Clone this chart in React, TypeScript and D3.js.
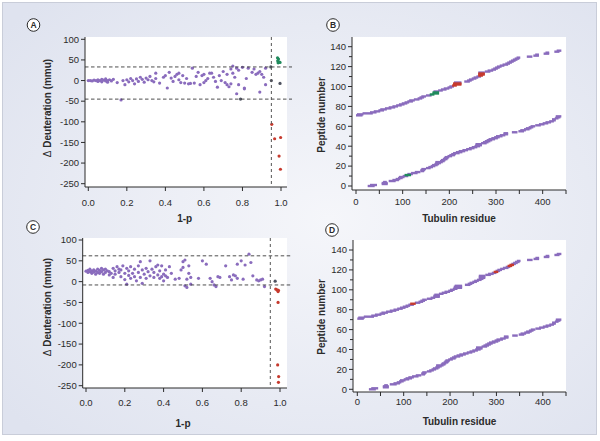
import React from "react";
import * as d3 from "d3";

// ---- data ----
// panel A : 1-p vs delta deuteration (mmu)
const scatterA_purple: [number, number][] = [
  [0.0, 0], [0.01, 0], [0.02, -1], [0.03, 1], [0.04, 0], [0.05, -2], [0.05, 2], [0.06, 0], [0.07, 3], [0.07, -3],
  [0.08, 1], [0.09, -1], [0.09, 4], [0.1, 0], [0.1, -4], [0.11, 2], [0.12, -1], [0.13, 3], [0.15, -5], [0.17, -47],
  [0.18, 0], [0.19, -10], [0.2, 2], [0.21, -3], [0.22, 5], [0.23, 0], [0.24, -8], [0.25, 4], [0.26, -2], [0.27, 8],
  [0.28, 3], [0.29, -4], [0.3, 6], [0.31, 2], [0.32, 10], [0.33, 0], [0.34, -3], [0.35, 5], [0.35, 18], [0.37, -6],
  [0.39, 8], [0.4, 12], [0.41, -18], [0.42, 20], [0.43, 6], [0.44, -2], [0.45, 10], [0.46, 15], [0.47, 2], [0.47, 18],
  [0.48, -5], [0.49, 12], [0.5, -6], [0.51, 5], [0.52, -8], [0.53, -7], [0.54, 30], [0.55, -6], [0.56, 10], [0.57, 20],
  [0.58, -10], [0.59, 12], [0.6, 15], [0.6, -5], [0.61, 0], [0.62, 5], [0.63, 18], [0.64, 18], [0.65, 8], [0.66, -2],
  [0.67, -16], [0.68, 12], [0.69, 0], [0.7, 22], [0.71, -5], [0.72, -10], [0.72, 15], [0.73, -15], [0.74, 28], [0.74, -8],
  [0.75, 18], [0.75, 35], [0.76, 8], [0.77, -32], [0.77, 30], [0.78, 25], [0.78, -10], [0.8, 32], [0.81, -20], [0.81, -18],
  [0.82, 5], [0.83, 30], [0.85, 20], [0.86, 28], [0.87, 15], [0.88, 18], [0.89, 22], [0.89, -28], [0.9, 15], [0.91, 8],
  [0.92, -10], [0.92, 30],
];
const scatterA_gray: [number, number][] = [[0.947, 33], [0.95, 0], [0.995, -7], [0.79, -45]];
const scatterA_green: [number, number][] = [[0.982, 55], [0.987, 52], [0.983, 48], [0.99, 45], [0.985, 43], [0.995, 44]];
const scatterA_red: [number, number][] = [[0.952, -106], [0.967, -141], [0.998, -138], [0.99, -183], [0.997, -215]];
const cutA = { hi: 33, lo: -45, p: 0.95 };

// panel C
const scatterC_purple: [number, number][] = [
  [0.0, 25], [0.01, 22], [0.01, 27], [0.02, 24], [0.02, 30], [0.03, 20], [0.03, 26], [0.04, 23], [0.04, 28], [0.05, 18],
  [0.05, 25], [0.06, 22], [0.06, 30], [0.07, 27], [0.07, 20], [0.08, 24], [0.08, 32], [0.09, 18], [0.09, 28], [0.1, 22],
  [0.1, 30], [0.11, 26], [0.12, 16], [0.12, 24], [0.13, 20], [0.14, 32], [0.14, 10], [0.15, 26], [0.15, 18], [0.16, 36],
  [0.17, 22], [0.17, 30], [0.18, 12], [0.18, 28], [0.19, 38], [0.2, 20], [0.2, 5], [0.21, -6], [0.21, 32], [0.22, 15],
  [0.22, 26], [0.23, 36], [0.23, 8], [0.24, 20], [0.25, 30], [0.25, 12], [0.26, 2], [0.27, 22], [0.27, 38], [0.28, 48],
  [0.28, 10], [0.29, -4], [0.29, 28], [0.3, 18], [0.31, 32], [0.31, 8], [0.32, 24], [0.33, 50], [0.33, 14], [0.34, 30],
  [0.35, 10], [0.35, 22], [0.36, 36], [0.37, 16], [0.37, 40], [0.38, 8], [0.38, 26], [0.39, 12], [0.39, 38], [0.4, 18],
  [0.4, 2], [0.41, 14], [0.41, 28], [0.42, 10], [0.43, 36], [0.44, 20], [0.46, 6], [0.48, 8], [0.49, 28], [0.5, 34],
  [0.5, 48], [0.51, -10], [0.51, 52], [0.52, -14], [0.52, 6], [0.53, 38], [0.53, 20], [0.54, -6], [0.54, 10], [0.58, 8],
  [0.6, 50], [0.62, 42], [0.64, 8], [0.65, 0], [0.66, -8], [0.67, -12], [0.68, 12], [0.69, 10], [0.72, 38], [0.74, 12],
  [0.75, 4], [0.76, 16], [0.77, 14], [0.78, 8], [0.78, 42], [0.8, 50], [0.81, 6], [0.82, 40], [0.84, 66], [0.85, 46],
  [0.86, 14], [0.88, 4], [0.89, 2], [0.9, 4], [0.91, 6], [0.92, -12],
];
const scatterC_gray: [number, number][] = [[0.975, 1]];
const scatterC_red: [number, number][] = [
  [0.978, -18], [0.985, -20], [0.99, -24], [0.992, -21], [0.99, -50], [0.988, -200], [0.993, -228], [0.992, -242],
];
const cutC = { hi: 62, lo: -8, p: 0.95 };

// peptide map (B, D): peptide number = index, [start, end] tubulin residue
const pepStart = [
  25, 30, 55, 55, 58, 70, 78, 85, 90, 92, 100, 104, 110, 118, 126, 138, 138, 140, 150, 155,
  160, 163, 168, 170, 170, 180, 182, 186, 188, 190, 196, 200, 204, 208, 214, 220, 228, 236, 242, 248,
  254, 256, 256, 268, 272, 276, 280, 284, 290, 296, 300, 308, 316, 316, 334, 348, 352, 360, 364, 370,
  374, 384, 392, 400, 406, 414, 420, 420, 426, 428, 428,
  0, 2, 14, 30, 38, 48, 52, 62, 70, 78, 86, 92, 98, 104, 110, 114, 124, 132, 136, 140,
  150, 158, 164, 164, 166, 176, 182, 188, 196, 200, 206, 208, 208, 210, 232, 238, 242, 248, 252, 258,
  262, 262, 262, 262, 276, 282, 290, 294, 298, 302, 308, 314, 320, 324, 328, 332, 336, 340, 344, 366,
  380, 384, 402, 406, 425, 430,
];
const pepEnd = [
  40, 45, 68, 68, 66, 85, 92, 95, 100, 104, 112, 118, 122, 132, 138, 146, 148, 150, 160, 165,
  170, 175, 178, 182, 186, 190, 192, 196, 198, 200, 206, 212, 214, 222, 228, 234, 240, 248, 254, 260,
  266, 270, 270, 280, 284, 288, 292, 298, 304, 308, 314, 320, 326, 326, 346, 360, 364, 372, 376, 380,
  384, 396, 404, 412, 418, 424, 428, 428, 434, 438, 440,
  14, 16, 36, 44, 52, 60, 66, 76, 84, 90, 98, 104, 110, 114, 122, 126, 136, 142, 146, 150,
  162, 168, 178, 178, 178, 186, 194, 200, 206, 210, 216, 226, 226, 226, 244, 248, 252, 258, 262, 268,
  272, 276, 276, 276, 288, 294, 300, 304, 308, 312, 318, 326, 330, 334, 338, 342, 346, 350, 352, 378,
  392, 392, 414, 414, 436, 440,
];
const greenB = [11, 92, 93, 94];
const redB = [101, 102, 103, 111, 112, 113];
const redD = [86, 118, 124, 125];

const yTicksDelta = [100, 50, 0, -50, -100, -150, -200, -250];
const xTicksP = [0, 0.2, 0.4, 0.6, 0.8, 1.0];
const yTicksPep = [0, 20, 40, 60, 80, 100, 120, 140];
const xTicksRes = [0, 100, 200, 300, 400];

// ---- styling ----
const PURPLE = "#8a6cbd";
const GREEN = "#1f8a5c";
const RED = "#c63a2e";
const GRAY = "#4f5361";
const INK = "#2b2b2b";
const FONT = "'Liberation Sans', Arial, sans-serif";

type Box = { left: number; right: number; top: number; bottom: number };

function Letter({ x, y, t }: { x: number; y: number; t: string }) {
  return (
    <g>
      <circle cx={x} cy={y} r={6.3} fill="#fff" stroke={INK} strokeWidth={1} />
      <text x={x} y={y + 3.2} textAnchor="middle" fontSize={8.5} fontWeight="bold" fill={INK} fontFamily={FONT}>
        {t}
      </text>
    </g>
  );
}

function ScatterPanel(props: {
  box: Box;
  xr: [number, number];
  yr: [number, number];
  groups: { pts: [number, number][]; color: string }[];
  cut: { hi: number; lo: number; p: number };
  xLabelY: number;
  titleY: number;
  yTitleX: number;
  yTitleY: number;
}) {
  const { box, groups, cut } = props;
  const x = d3.scaleLinear().domain([0, 1]).range(props.xr);
  const y = d3.scaleLinear().domain([100, -250]).range(props.yr);
  return (
    <g fontFamily={FONT}>
      <rect x={box.left} y={box.top} width={box.right - box.left} height={box.bottom - box.top} fill="#fff" />
      {groups.map((g, gi) =>
        g.pts.map((d, i) => <circle key={gi + "-" + i} cx={x(d[0])} cy={y(d[1])} r={1.6} fill={g.color} />)
      )}
      <g stroke="#3a3a3a" strokeWidth={0.9} strokeDasharray="3.5,2.5">
        <line x1={box.left} x2={box.right + 5} y1={y(cut.hi)} y2={y(cut.hi)} />
        <line x1={box.left} x2={box.right + 5} y1={y(cut.lo)} y2={y(cut.lo)} />
      </g>
      <line
        x1={x(cut.p)}
        x2={x(cut.p)}
        y1={box.top}
        y2={box.bottom}
        stroke="#555"
        strokeWidth={1}
        strokeDasharray="3,3"
      />
      <line x1={box.left} x2={box.left} y1={box.top} y2={box.bottom} stroke={INK} />
      <line x1={box.left} x2={box.right} y1={box.bottom} y2={box.bottom} stroke={INK} />
      {yTicksDelta.map((t) => (
        <g key={t}>
          <line x1={box.left - 4} x2={box.left} y1={y(t)} y2={y(t)} stroke={INK} />
          <text x={box.left - 6} y={y(t) + 3.3} textAnchor="end" fontSize={9.5} fill={INK}>
            {t}
          </text>
        </g>
      ))}
      {xTicksP.map((t) => (
        <g key={t}>
          <line x1={x(t)} x2={x(t)} y1={box.bottom} y2={box.bottom + 4} stroke={INK} />
          <text x={x(t)} y={props.xLabelY} textAnchor="middle" fontSize={9.5} fill={INK}>
            {d3.format(".1f")(t)}
          </text>
        </g>
      ))}
      <text x={(props.xr[0] + props.xr[1]) / 2} y={props.titleY} textAnchor="middle" fontSize={10} fontWeight="bold" fill={INK}>
        1-p
      </text>
      <text
        transform={`translate(${props.yTitleX},${props.yTitleY}) rotate(-90)`}
        textAnchor="middle"
        fontSize={10}
        fontWeight="bold"
        fill={INK}
      >
        <tspan fontWeight="normal">Δ</tspan> Deuteration (mmu)
      </text>
    </g>
  );
}

function PeptidePanel(props: {
  box: Box;
  xr: [number, number];
  yr: [number, number];
  green: number[];
  red: number[];
  xLabelY: number;
  titleY: number;
  yTitleX: number;
  yTitleY: number;
}) {
  const { box } = props;
  const x = d3.scaleLinear().domain([0, 450]).range(props.xr);
  const y = d3.scaleLinear().domain([0, 140]).range(props.yr);
  const colorOf = (i: number) => (props.green.includes(i) ? GREEN : props.red.includes(i) ? RED : PURPLE);
  const order = d3.range(pepStart.length).sort((a, b) => (colorOf(a) === PURPLE ? 0 : 1) - (colorOf(b) === PURPLE ? 0 : 1));
  return (
    <g fontFamily={FONT}>
      <rect x={box.left} y={box.top} width={box.right - box.left} height={box.bottom - box.top} fill="#fff" />
      {order.map((i) => (
        <rect
          key={i}
          x={x(pepStart[i])}
          y={y(i) - 1.2}
          width={x(pepEnd[i]) - x(pepStart[i])}
          height={2.4}
          fill={colorOf(i)}
        />
      ))}
      <line x1={box.left} x2={box.left} y1={box.top} y2={box.bottom} stroke={INK} />
      <line x1={box.left} x2={box.right} y1={box.bottom} y2={box.bottom} stroke={INK} />
      {d3.range(0, 141, 10).map((t) => (
        <line key={"m" + t} x1={box.left - (t % 20 === 0 ? 4 : 3)} x2={box.left} y1={y(t)} y2={y(t)} stroke={INK} />
      ))}
      {yTicksPep.map((t) => (
        <text key={t} x={box.left - 6} y={y(t) + 3.3} textAnchor="end" fontSize={9.5} fill={INK}>
          {t}
        </text>
      ))}
      {d3.range(0, 451, 50).map((t) => (
        <line key={"x" + t} x1={x(t)} x2={x(t)} y1={box.bottom} y2={box.bottom + 4} stroke={INK} />
      ))}
      {xTicksRes.map((t) => (
        <text key={t} x={x(t)} y={props.xLabelY} textAnchor="middle" fontSize={9.5} fill={INK}>
          {t}
        </text>
      ))}
      <text x={(box.left + box.right) / 2} y={props.titleY} textAnchor="middle" fontSize={10} fontWeight="bold" fill={INK}>
        Tubulin residue
      </text>
      <text
        transform={`translate(${props.yTitleX},${props.yTitleY}) rotate(-90)`}
        textAnchor="middle"
        fontSize={10}
        fontWeight="bold"
        fill={INK}
      >
        Peptide number
      </text>
    </g>
  );
}

export default function App() {
  return (
    <svg width={600} height={441} style={{ position: "absolute", left: 0, top: 0 }}>
      <defs>
        <radialGradient id="bg" cx="55%" cy="50%" r="70%">
          <stop offset="0%" stopColor="#f5f6fa" />
          <stop offset="100%" stopColor="#dfe3ef" />
        </radialGradient>
      </defs>
      <rect x={0} y={0} width={600} height={441} fill="#fff" />
      <rect x={2.5} y={2.5} width={594} height={432} fill="url(#bg)" stroke="#c9cdd9" />

      <ScatterPanel
        box={{ left: 85, right: 287, top: 37, bottom: 187 }}
        xr={[88.3, 281]}
        yr={[39.3, 183.7]}
        groups={[
          { pts: scatterA_purple, color: PURPLE },
          { pts: scatterA_gray, color: GRAY },
          { pts: scatterA_green, color: GREEN },
          { pts: scatterA_red, color: RED },
        ]}
        cut={cutA}
        xLabelY={206}
        titleY={222}
        yTitleX={51}
        yTitleY={108}
      />
      <ScatterPanel
        box={{ left: 82.7, right: 287, top: 238, bottom: 388 }}
        xr={[86, 280]}
        yr={[240, 385.7]}
        groups={[
          { pts: scatterC_purple, color: PURPLE },
          { pts: scatterC_gray, color: GRAY },
          { pts: scatterC_red, color: RED },
        ]}
        cut={cutC}
        xLabelY={406}
        titleY={427}
        yTitleX={51}
        yTitleY={307}
      />
      <PeptidePanel
        box={{ left: 352, right: 566, top: 37, bottom: 190 }}
        xr={[356, 566]}
        yr={[186, 46.7]}
        green={greenB}
        red={redB}
        xLabelY={205}
        titleY={222}
        yTitleX={325}
        yTitleY={115}
      />
      <PeptidePanel
        box={{ left: 353, right: 566, top: 240, bottom: 392 }}
        xr={[357.3, 566]}
        yr={[389.3, 250]}
        green={[]}
        red={redD}
        xLabelY={405}
        titleY={425}
        yTitleX={325}
        yTitleY={317}
      />

      <Letter x={33.5} y={25} t="A" />
      <Letter x={333} y={25} t="B" />
      <Letter x={33} y={227} t="C" />
      <Letter x={332} y={230} t="D" />
    </svg>
  );
}
